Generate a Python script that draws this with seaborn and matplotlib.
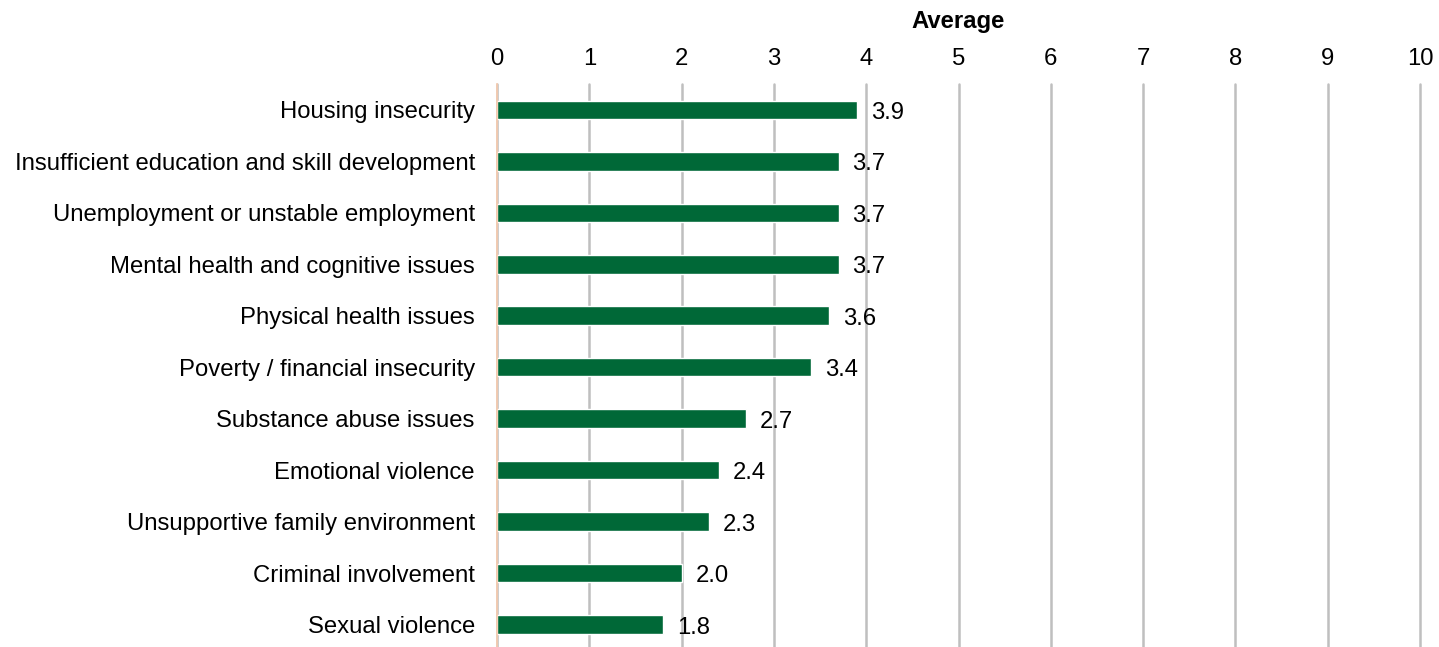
import matplotlib
matplotlib.use("Agg")
import matplotlib.pyplot as plt
import seaborn as sns
import pandas as pd

categories = [
    "Housing insecurity",
    "Insufficient education and skill development",
    "Unemployment or unstable employment",
    "Mental health and cognitive issues",
    "Physical health issues",
    "Poverty / financial insecurity",
    "Substance abuse issues",
    "Emotional violence",
    "Unsupportive family environment",
    "Criminal involvement",
    "Sexual violence",
]
averages = [3.9, 3.7, 3.7, 3.7, 3.6, 3.4, 2.7, 2.4, 2.3, 2.0, 1.8]
x_ticks = list(range(0, 11))

df = pd.DataFrame({"category": categories, "average": averages})

sns.set_theme(style="white")
plt.rcParams["font.family"] = ["Liberation Sans", "DejaVu Sans"]
plt.rcParams["text.color"] = "black"
plt.rcParams["xtick.color"] = "black"
plt.rcParams["ytick.color"] = "black"
plt.rcParams["axes.labelcolor"] = "black"

fs = 17.2

fig = plt.figure(figsize=(14.39, 6.47), dpi=100)
ax = fig.add_axes([0.3454, -0.005, 0.6414, 0.875])
ax.set_axisbelow(True)

sns.barplot(data=df, x="average", y="category", color="#006837",
            width=0.36, saturation=1, ax=ax)
for bar in ax.patches:
    bar.set_zorder(3)

ax.set_xlim(0, 10)
ax.set_ylim(10.5, -0.5)
ax.set_xticks(x_ticks)
ax.xaxis.tick_top()
ax.xaxis.set_label_position("top")
ax.set_xlabel("Average", fontsize=fs, fontweight="bold", labelpad=14)
ax.set_ylabel("")
ax.tick_params(axis="x", labelsize=fs, length=0, pad=10.5)
ax.tick_params(axis="y", labelsize=fs, length=0, pad=16)

ax.grid(axis="x", color="#BFBFBF", linewidth=1.8, zorder=1)
ax.grid(axis="y", visible=False)
for line in ax.get_xgridlines():
    line.set_clip_on(False)
    line.set_zorder(1)
for side in ["top", "right", "bottom"]:
    ax.spines[side].set_visible(False)
ax.spines["left"].set_color("#F8CBAD")
ax.spines["left"].set_linewidth(1.2)
ax.spines["left"].set_zorder(4)

for i, v in enumerate(averages):
    ax.text(v + 0.15, i + 0.06, f"{v:.1f}", va="center", ha="left",
            fontsize=fs, color="black", zorder=5)

fig.savefig("out.png", dpi=100)
